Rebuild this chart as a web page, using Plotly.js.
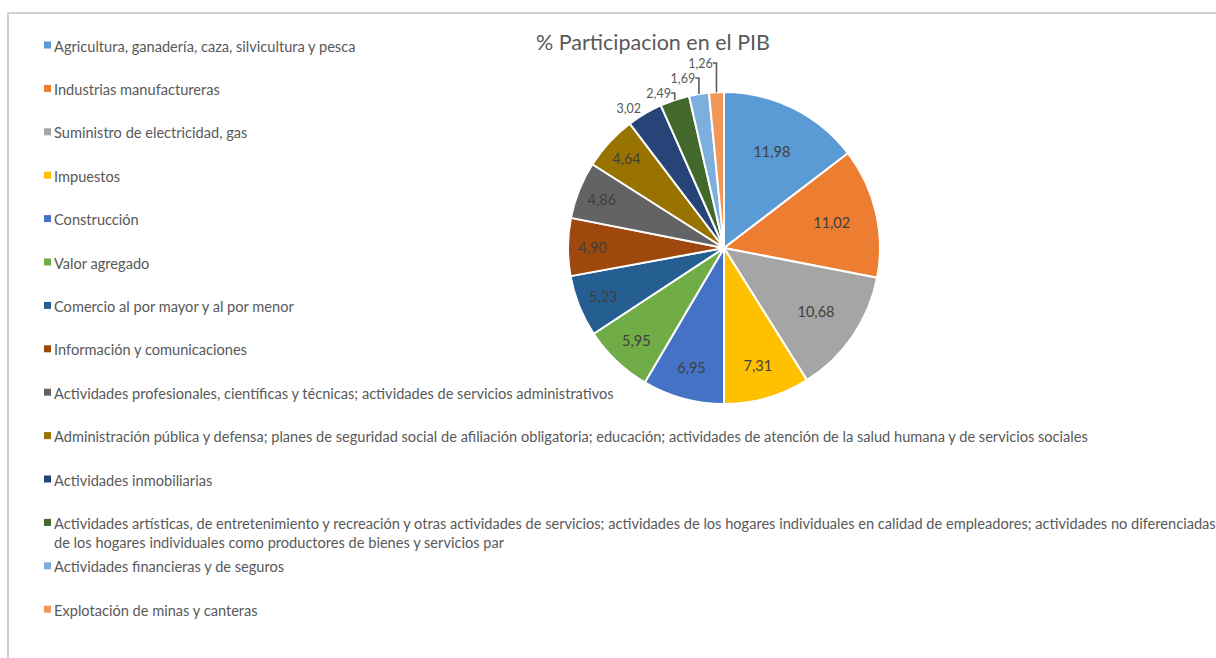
<!DOCTYPE html>
<html>
<head>
<meta charset="utf-8">
<script src="https://cdn.plot.ly/plotly-3.0.1.min.js"></script>
<style>
  body { margin: 0; background: #fff; }
  #plot { width: 1216px; height: 658px; }
</style>
</head>
<body>
<div id="plot"></div>
<script>
// sectores del PIB (orden del grafico)
var sectores = [
    'Agricultura, ganadería, caza, silvicultura y pesca',
    'Industrias manufactureras',
    'Suministro de electricidad, gas',
    'Impuestos',
    'Construcción',
    'Valor agregado',
    'Comercio al por mayor y al por menor',
    'Información y comunicaciones',
    'Actividades profesionales, científicas y técnicas; actividades de servicios administrativos',
    'Administración pública y defensa; planes de seguridad social de afiliación obligatoria; educación; actividades de atención de la salud humana y de servicios sociales',
    'Actividades inmobiliarias',
    'Actividades artísticas, de entretenimiento y recreación y otras actividades de servicios; actividades de los hogares individuales en calidad de empleadores; actividades no diferenciadas de los hogares individuales como productores de bienes y servicios par',
    'Actividades financieras y de seguros',
    'Explotación de minas y canteras'
];

// % participacion
var participacion = [11.98, 11.02, 10.68, 7.31, 6.95, 5.95, 5.23, 4.90, 4.86, 4.64, 3.02, 2.49, 1.69, 1.26];

var colores = ['#5B9BD5', '#ED7D31', '#A5A5A5', '#FFC000', '#4472C4', '#70AD47', '#255E91',
               '#9E480E', '#636363', '#997300', '#264478', '#43682B', '#7CAFDD', '#F1975A'];

var W = 1216, H = 658;
var cx = 724, cy = 248, r = 156;

var posTexto = participacion.map(function(v, i) { return i < 10 ? 'inside' : 'outside'; });

var trace = {
    type: 'pie',
    labels: sectores,
    values: participacion,
    sort: false,
    direction: 'clockwise',
    rotation: 0,
    marker: { colors: colores, line: { color: '#ffffff', width: 2 } },
    texttemplate: '%{value:.2f}',
    textposition: posTexto,
    insidetextorientation: 'horizontal',
    textfont: { family: 'Lato, sans-serif', size: 14.5, color: '#404040' },
    outsidetextfont: { family: 'Lato, sans-serif', size: 12.5, color: '#595959' },
    hoverinfo: 'label+value',
    domain: {
        x: [(cx - r) / W, (cx + r) / W],
        y: [1 - (cy + r) / H, 1 - (cy - r) / H]
    },
    showlegend: false
};

// leyenda dibujada a mano (espaciado como en Excel)
var annotations = [];
var shapes = [
    { type: 'rect', xref: 'paper', yref: 'paper', x0: 8 / W, x1: 1.01, y0: -0.01, y1: 1 - 13 / H,
      line: { color: '#d0d0d0', width: 2 }, fillcolor: 'rgba(0,0,0,0)' }
];
var y0 = 45, paso = 43.4;
sectores.forEach(function(s, i) {
    var y = y0 + i * paso;
    var txt = s.replace('no diferenciadas de los', 'no diferenciadas<br>de los');
    annotations.push({
        xref: 'paper', yref: 'paper', x: 52 / W, y: 1 - (y - 9.5) / H,
        xanchor: 'left', yanchor: 'top', align: 'left', showarrow: false,
        text: txt,
        font: { family: 'Lato, sans-serif', size: 14.6, color: '#595959' }
    });
    shapes.push({
        type: 'rect', xref: 'paper', yref: 'paper',
        x0: 44 / W, x1: 51 / W, y0: 1 - (y + 3.5) / H, y1: 1 - (y - 3.5) / H,
        line: { width: 0 }, fillcolor: colores[i]
    });
});

var layout = {
    width: W,
    height: H,
    margin: { l: 0, r: 0, t: 0, b: 0 },
    separators: ',.',
    paper_bgcolor: '#ffffff',
    title: {
        text: '% Participacion en el PIB',
        x: 653 / W, xanchor: 'center',
        y: 1 - 42 / H, yanchor: 'middle',
        font: { family: 'Lato, sans-serif', size: 21.5, color: '#595959' }
    },
    annotations: annotations,
    shapes: shapes
};

Plotly.newPlot('plot', [trace], layout, { displayModeBar: false });
</script>
</body>
</html>
